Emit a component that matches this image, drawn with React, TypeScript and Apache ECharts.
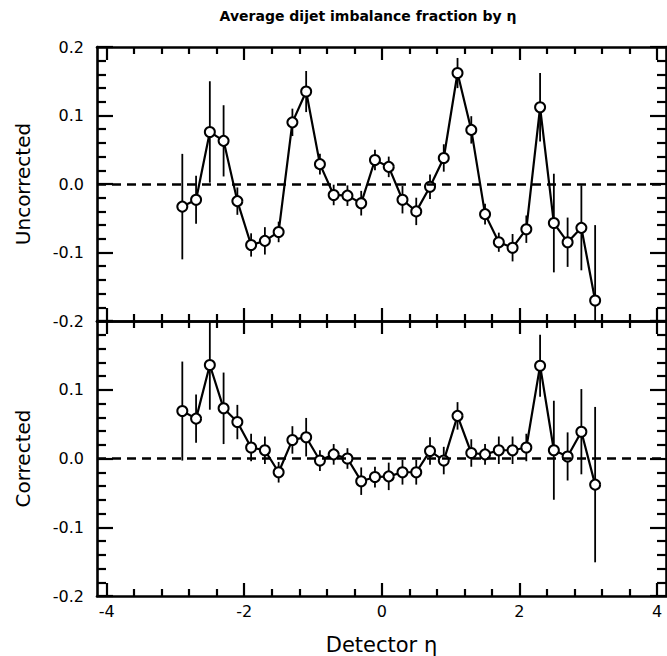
import React, { useEffect, useRef } from "react";
import * as echarts from "echarts";

const etaBins = [-2.9, -2.7, -2.5, -2.3, -2.1, -1.9, -1.7, -1.5, -1.3, -1.1, -0.9, -0.7, -0.5, -0.3, -0.1, 0.1, 0.3, 0.5, 0.7, 0.9, 1.1, 1.3, 1.5, 1.7, 1.9, 2.1, 2.3, 2.5, 2.7, 2.9, 3.1];

const uncorrected = [-0.033, -0.023, 0.076, 0.063, -0.025, -0.089, -0.083, -0.070, 0.090, 0.135, 0.029, -0.016, -0.017, -0.028, 0.035, 0.025, -0.023, -0.040, -0.004, 0.038, 0.162, 0.079, -0.044, -0.085, -0.093, -0.066, 0.112, -0.057, -0.085, -0.064, -0.170];
const uncorrectedErr = [0.077, 0.035, 0.074, 0.052, 0.02, 0.017, 0.02, 0.015, 0.02, 0.03, 0.015, 0.015, 0.015, 0.018, 0.015, 0.015, 0.02, 0.02, 0.018, 0.02, 0.022, 0.02, 0.015, 0.014, 0.02, 0.02, 0.05, 0.072, 0.036, 0.062, 0.11];

const corrected = [0.069, 0.058, 0.136, 0.073, 0.053, 0.016, 0.012, -0.020, 0.027, 0.031, -0.003, 0.006, 0.0, -0.033, -0.027, -0.026, -0.020, -0.020, 0.011, -0.003, 0.062, 0.008, 0.006, 0.012, 0.012, 0.016, 0.135, 0.012, 0.003, 0.039, -0.038];
const correctedErr = [0.072, 0.035, 0.065, 0.052, 0.025, 0.02, 0.02, 0.015, 0.02, 0.028, 0.015, 0.015, 0.015, 0.02, 0.015, 0.02, 0.018, 0.018, 0.02, 0.02, 0.02, 0.02, 0.015, 0.02, 0.02, 0.02, 0.045, 0.072, 0.035, 0.062, 0.113];

const xMajorTicks = [-4, -2, 0, 2, 4];
const xMinorTicks = [-3.6, -3.2, -2.8, -2.4, -1.6, -1.2, -0.8, -0.4, 0.4, 0.8, 1.2, 1.6, 2.4, 2.8, 3.2, 3.6];

const TITLE = "Average dijet imbalance fraction by η";
const X_NAME = "Detector η";
const Y_NAMES = ["Uncorrected", "Corrected"];

const X_MIN = -4.14;
const X_MAX = 4.13;
const Y_MIN = -0.2;
const Y_MAX = 0.2;

const FONT = "DejaVu Sans";

export default function App() {
  const ref = useRef<HTMLDivElement>(null);

  useEffect(() => {
    if (!ref.current) return;
    const chart = echarts.init(ref.current, null, { renderer: "svg" });

    const black = "#000";

    const makeX = (gridIndex: number, position: string, major: boolean, labels = false, name = "") => ({
      type: "value",
      gridIndex,
      position,
      min: X_MIN,
      max: X_MAX,
      name,
      nameLocation: "middle",
      nameGap: 38,
      nameTextStyle: { color: black, fontFamily: FONT, fontSize: 21 },
      axisLine: { show: major, onZero: false, lineStyle: { color: black, width: 2.6 } },
      axisTick: {
        show: true,
        inside: true,
        length: major ? 13 : 7,
        customValues: major ? xMajorTicks : xMinorTicks,
        lineStyle: { color: black, width: 2.2 },
      },
      axisLabel: {
        show: labels,
        customValues: xMajorTicks,
        color: black,
        fontFamily: FONT,
        fontSize: 16,
        margin: 7,
        formatter: (v: number) => String(Math.round(v)),
      },
      splitLine: { show: false },
    });

    const yFmt = (hideTop: boolean) => (v: number) => {
      if (hideTop && v > 0.19) return "";
      if (Math.abs(v) < 1e-9) return "0.0";
      return v.toFixed(1);
    };

    const makeY = (gridIndex: number, position: string, labels: boolean, name = "", hideTop = false) => ({
      type: "value",
      gridIndex,
      position,
      min: Y_MIN,
      max: Y_MAX,
      interval: 0.1,
      name,
      nameLocation: "middle",
      nameGap: 64,
      nameTextStyle: { color: black, fontFamily: FONT, fontSize: 20 },
      axisLine: { show: true, onZero: false, lineStyle: { color: black, width: 2.6 } },
      axisTick: { show: true, inside: true, length: 16, lineStyle: { color: black, width: 2.2 } },
      minorTick: { show: true, splitNumber: 5, length: 9, lineStyle: { color: black, width: 2.2 } },
      axisLabel: {
        show: labels,
        color: black,
        fontFamily: FONT,
        fontSize: 16,
        margin: 13,
        formatter: yFmt(hideTop),
      },
      splitLine: { show: false },
    });

    const errRender = (params: any, api: any) => {
      const x = api.value(0);
      const y = api.value(1);
      const e = api.value(2);
      const lo = Math.max(y - e, Y_MIN);
      const hi = Math.min(y + e, Y_MAX);
      const p1 = api.coord([x, lo]);
      const p2 = api.coord([x, hi]);
      return {
        type: "line",
        shape: { x1: p1[0], y1: p1[1], x2: p2[0], y2: p2[1] },
        style: { stroke: black, lineWidth: 1.8 },
      };
    };

    const panel = (vals: number[], errs: number[], xi: number, yi: number) => [
      {
        type: "custom",
        xAxisIndex: xi,
        yAxisIndex: yi,
        renderItem: errRender,
        data: etaBins.map((x, i) => [x, vals[i], errs[i]]),
        encode: { x: 0, y: 1 },
        z: 2,
        silent: true,
      },
      {
        type: "line",
        xAxisIndex: xi,
        yAxisIndex: yi,
        data: etaBins.map((x, i) => [x, vals[i]]),
        symbol: "circle",
        symbolSize: 10,
        showSymbol: true,
        lineStyle: { color: black, width: 2.2 },
        itemStyle: { color: "#fff", borderColor: black, borderWidth: 2 },
        z: 3,
        silent: true,
        markLine: {
          silent: true,
          symbol: ["none", "none"],
          label: { show: false },
          lineStyle: { color: black, width: 2.5, type: [9, 6] },
          data: [{ yAxis: 0 }],
        },
      },
    ];

    const option: any = {
      animation: false,
      backgroundColor: "#fff",
      grid: [
        { left: 97, width: 569, top: 47, height: 274 },
        { left: 97, width: 569, top: 321, height: 275 },
      ],
      xAxis: [
        makeX(0, "bottom", true),
        makeX(0, "bottom", false),
        makeX(0, "top", true),
        makeX(0, "top", false),
        makeX(1, "bottom", true, true, X_NAME),
        makeX(1, "bottom", false),
        makeX(1, "top", true),
        makeX(1, "top", false),
      ],
      yAxis: [
        makeY(0, "left", true, Y_NAMES[0]),
        makeY(0, "right", false),
        makeY(1, "left", true, Y_NAMES[1], true),
        makeY(1, "right", false),
      ],
      graphic: [
        {
          type: "text",
          x: 368,
          y: 16,
          style: {
            text: TITLE,
            align: "center",
            verticalAlign: "middle",
            fill: black,
            font: `bold 14px "${FONT}"`,
          },
        },
      ],
      series: [
        ...panel(uncorrected, uncorrectedErr, 0, 0),
        ...panel(corrected, correctedErr, 4, 2),
      ],
    };

    chart.setOption(option);
    return () => chart.dispose();
  }, []);

  return (
    <div
      ref={ref}
      style={{ position: "fixed", left: 0, top: 0, width: 667, height: 656, background: "#fff" }}
    />
  );
}
